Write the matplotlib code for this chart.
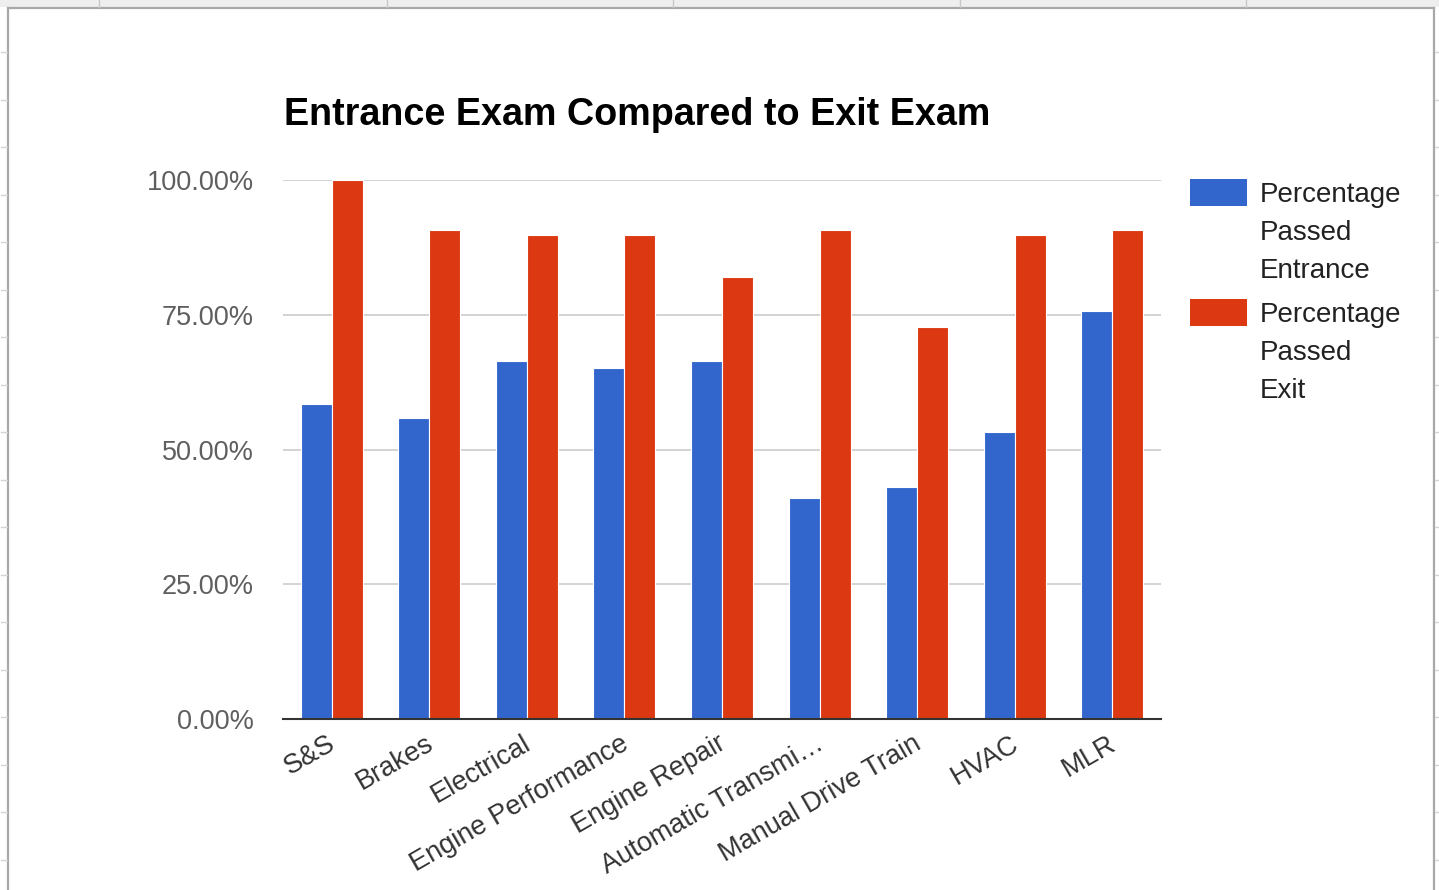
import matplotlib
matplotlib.use("Agg")
import matplotlib.pyplot as plt
from matplotlib.patches import Rectangle
from matplotlib.lines import Line2D
from matplotlib.ticker import PercentFormatter
import numpy as np

plt.rcParams['font.family'] = ['Liberation Sans', 'DejaVu Sans']

categories = ["S&S", "Brakes", "Electrical", "Engine Performance", "Engine Repair",
              "Automatic Transmi\u2026", "Manual Drive Train", "HVAC", "MLR"]
passed_entrance = [58.4, 55.8, 66.4, 65.1, 66.4, 41.0, 43.0, 53.2, 75.7]
passed_exit = [100.0, 90.7, 89.8, 89.8, 82.0, 90.7, 72.7, 89.8, 90.7]
series_labels = ["Percentage\nPassed\nEntrance", "Percentage\nPassed\nExit"]
yticks = [0, 25, 50, 75, 100]

BLUE = "#3366CC"
RED = "#DC3912"

W, H = 1439, 890
fig = plt.figure(figsize=(W / 100, H / 100), dpi=100)
fig.patch.set_facecolor("white")

def fx(px):
    return px / W

def fy(py):
    return 1 - py / H

# spreadsheet surroundings: header strip, outer frame, and cell ticks
fig.patches.append(Rectangle((0, fy(7)), 1, 7 / H, transform=fig.transFigure,
                             facecolor="#eeeeee", edgecolor="none", zorder=0))
for x0, y0, x1, y1 in [(8, 8, 1434, 8), (8, 8, 8, 890), (1434, 8, 1434, 890)]:
    fig.add_artist(Line2D([fx(x0), fx(x1)], [fy(y0), fy(y1)], transform=fig.transFigure,
                          color="#a8a8a8", lw=1.6))
for yy in np.arange(52, 890, 47.5):
    fig.add_artist(Line2D([fx(1), fx(7)], [fy(yy), fy(yy)], transform=fig.transFigure,
                          color="#d4d4d4", lw=1))
    fig.add_artist(Line2D([fx(1435), fx(1439)], [fy(yy), fy(yy)], transform=fig.transFigure,
                          color="#d4d4d4", lw=1))
for xx in [99, 387, 673, 960, 1246]:
    fig.add_artist(Line2D([fx(xx), fx(xx)], [fy(0), fy(7)], transform=fig.transFigure,
                          color="#c8c8c8", lw=1))

ax = fig.add_axes([fx(283), fy(719), fx(1161) - fx(283), fy(180) - fy(719)])
x = np.arange(len(categories))
bw = 0.318
ax.bar(x - bw / 2, passed_entrance, width=bw, color=BLUE, edgecolor="white", linewidth=0.8, zorder=3)
ax.bar(x + bw / 2, passed_exit, width=bw, color=RED, edgecolor="white", linewidth=0.8, zorder=3)

ax.set_xlim(-0.5, len(categories) - 0.5)
ax.set_ylim(0, 100)
ax.set_yticks(yticks)
ax.yaxis.set_major_formatter(PercentFormatter(decimals=2))
ax.tick_params(axis="y", length=0, pad=21, labelsize=19.5, labelcolor="#5f5f5f")
ax.grid(axis="y", color="#cccccc", lw=1.2, zorder=0)
ax.set_axisbelow(True)
for s in ["top", "right", "left"]:
    ax.spines[s].set_visible(False)
ax.spines["bottom"].set_color("#333333")
ax.spines["bottom"].set_linewidth(1.5)
ax.spines["bottom"].set_zorder(5)

ax.set_xticks(x)
ax.set_xticklabels([])
ax.tick_params(axis="x", length=0)
for xi, lab in zip(x, categories):
    ax.annotate(lab, xy=(xi, 0), xycoords="data", xytext=(2, -23), textcoords="offset pixels",
                rotation=30, rotation_mode="anchor", ha="right", va="center",
                fontsize=19.5, color="#333333", annotation_clip=False)

fig.text(fx(284), fy(115), "Entrance Exam Compared to Exit Exam", fontsize=27.2,
         fontweight="bold", color="#000000", ha="left", va="center")

# legend
for top, color, label in [(179, BLUE, series_labels[0]), (299, RED, series_labels[1])]:
    fig.patches.append(Rectangle((fx(1190), fy(top + 27)), fx(1247) - fx(1190), 27 / H,
                                 transform=fig.transFigure, facecolor=color, edgecolor="none"))
    for i, line in enumerate(label.split("\n")):
        fig.text(fx(1260), fy(top + 16 + 38 * i), line, fontsize=20, color="#222222",
                 ha="left", va="center")

fig.savefig("out.png", dpi=100)
